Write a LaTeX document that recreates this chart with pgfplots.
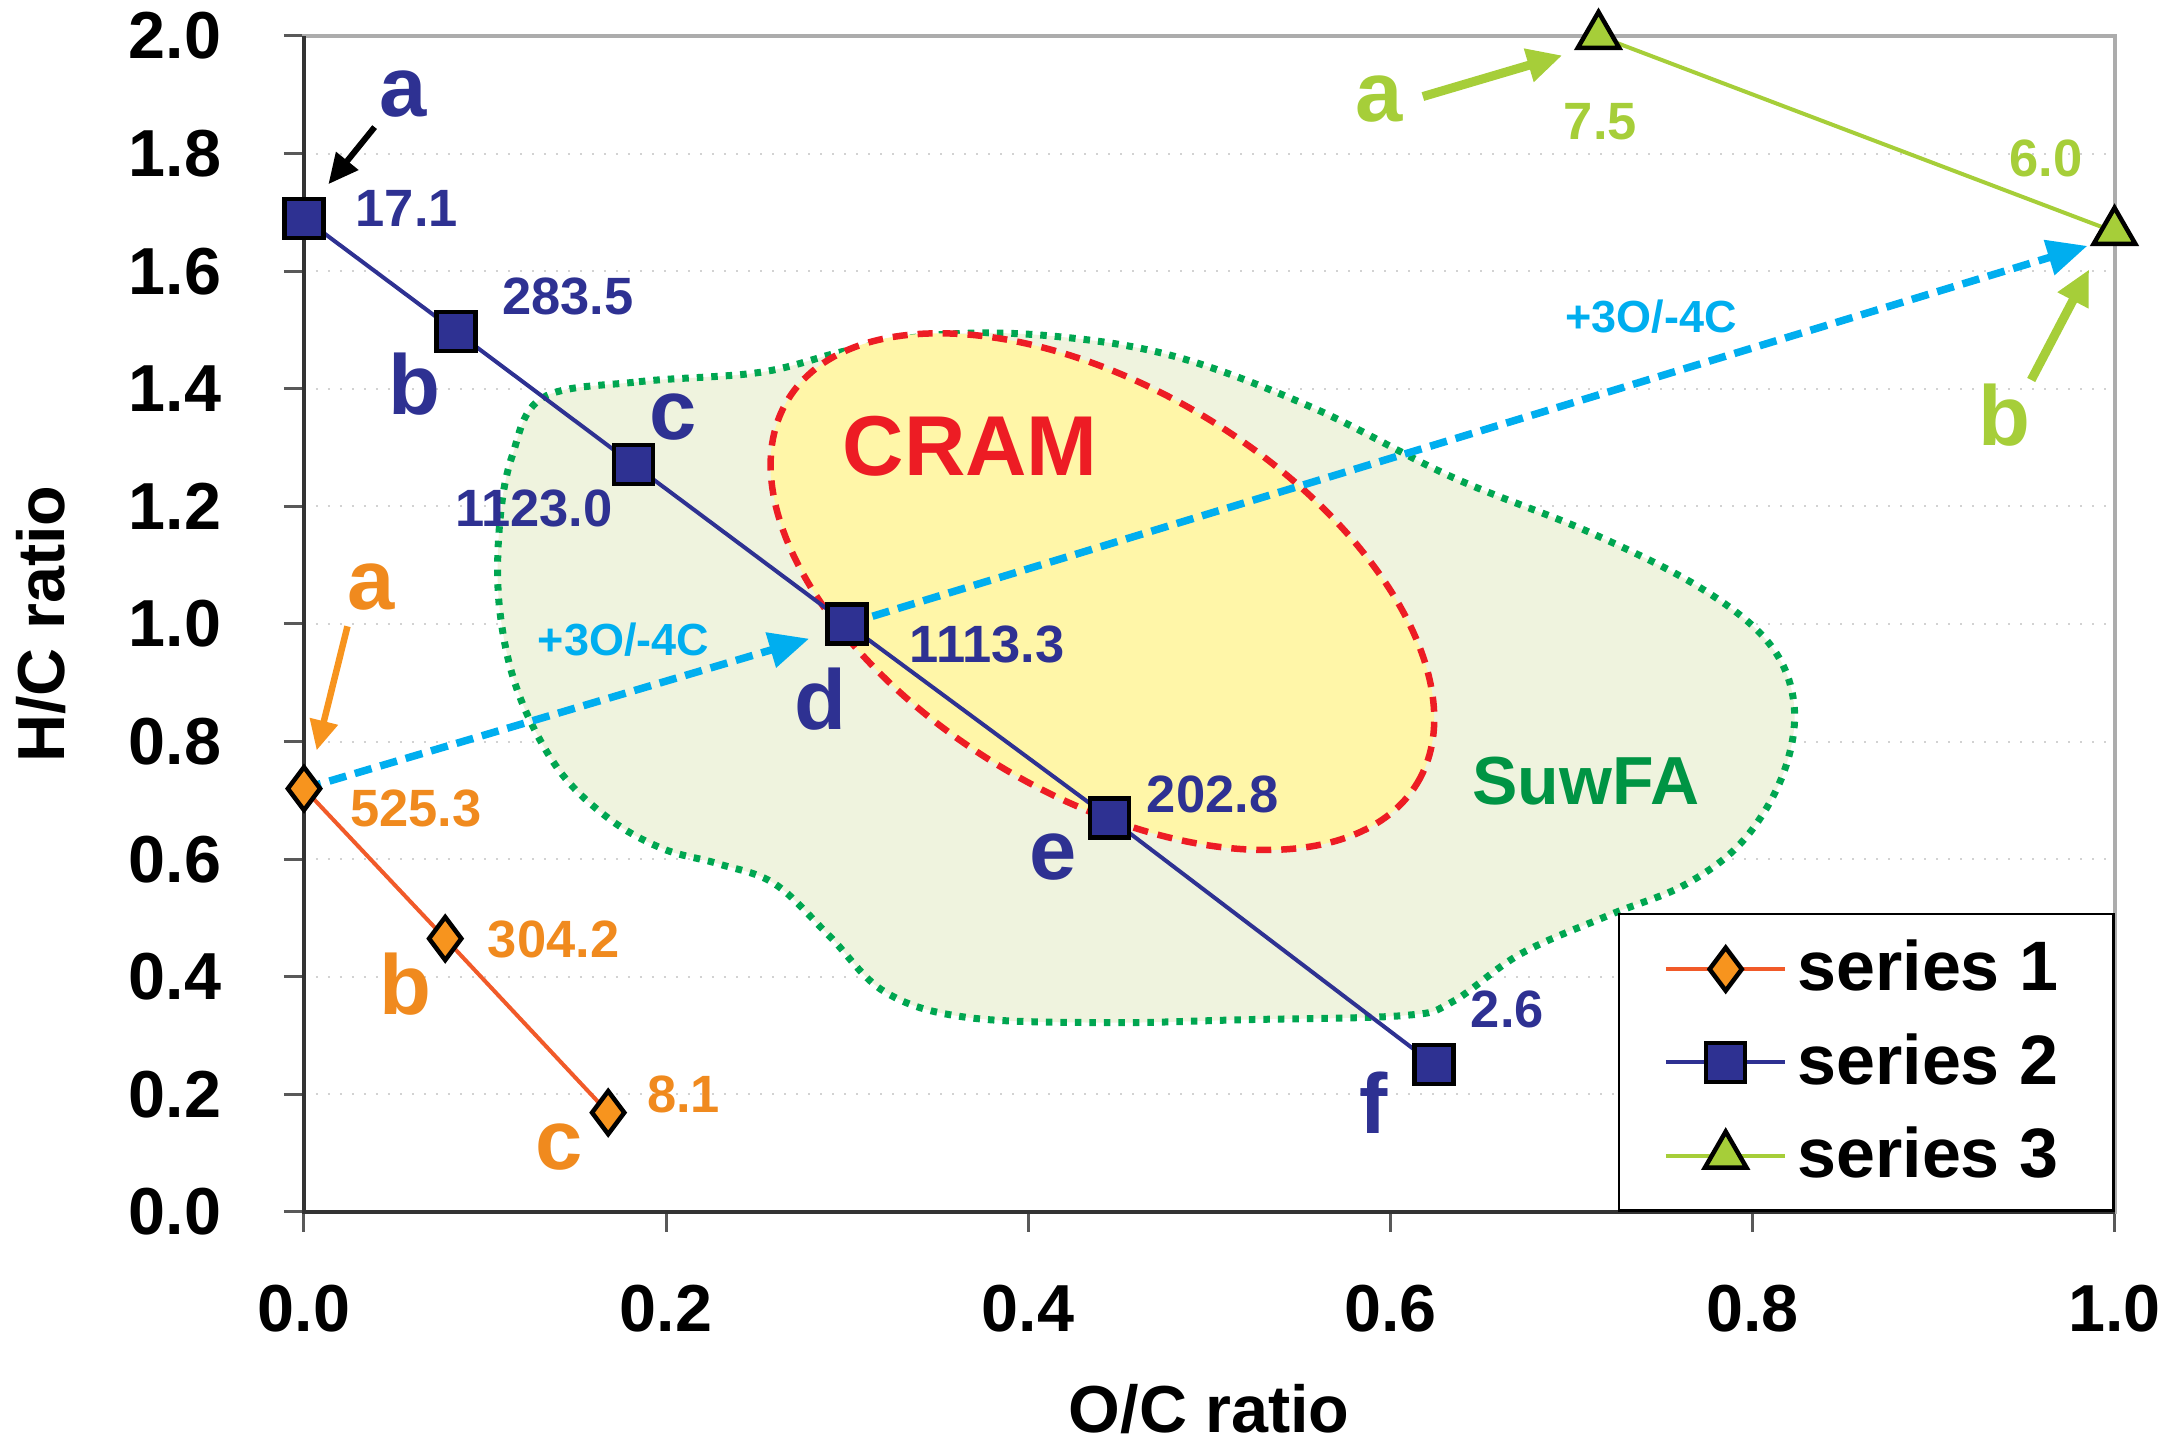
\documentclass[border=0pt]{standalone}
\usepackage{fontspec}
\setmainfont{Liberation Sans}
\usepackage{pgfplots}
\pgfplotsset{compat=1.18}
\usetikzlibrary{arrows.meta}
\definecolor{sonefill}{HTML}{F7941E}
\definecolor{sonetext}{HTML}{F08A1E}
\definecolor{soneline}{HTML}{F15A29}
\definecolor{navy}{HTML}{2E3192}
\definecolor{lime}{HTML}{A6CE39}
\definecolor{cyanA}{HTML}{00AEEF}
\definecolor{cramred}{HTML}{ED1C24}
\definecolor{cramfill}{HTML}{FFF6A8}
\definecolor{suwfill}{HTML}{EFF3DE}
\definecolor{suwline}{HTML}{00A651}
\definecolor{suwtext}{HTML}{009444}
\newcommand{\fs}[1]{\fontsize{#1}{#1}\selectfont\bfseries}
\begin{document}
\begin{tikzpicture}
\begin{axis}[
  at={(0pt,0pt)}, anchor=south west,
  scale only axis, width=362.1pt, height=235.2pt,
  xmin=0, xmax=1, ymin=0, ymax=2,
  xtick={0,0.2,0.4,0.6,0.8,1.0},
  ytick={0,0.2,0.4,0.6,0.8,1.0,1.2,1.4,1.6,1.8,2.0},
  /pgf/number format/.cd, fixed, fixed zerofill, precision=1, assume math mode=true,
  /pgfplots/.cd,
  tick label style={font=\fs{13.3}},
  xticklabel style={yshift=-7pt},
  yticklabel style={xshift=-9pt},
  tick align=outside, major tick length=4pt,
  tick style={draw=gray!70!black, line width=0.6pt},
  xtick pos=bottom, ytick pos=left,
  ymajorgrids, grid style={draw=gray!35, dotted, line width=0.4pt},
  axis line style={draw=gray!65, line width=0.8pt},
  xlabel={O/C ratio}, ylabel={H/C ratio},
  label style={font=\fs{13.3}},
  xlabel style={at={(axis description cs:0.5,-0.168)}, anchor=center},
  ylabel style={at={(axis description cs:-0.145,0.5)}, anchor=center},
  clip=false,
  legend style={at={(1,0)}, anchor=south east, draw=black, line width=0.5pt,
    font=\fs{14}, inner xsep=9pt, inner ysep=3.2pt, row sep=3pt,
    cells={anchor=west}},
  legend image code/.code={\draw[mark repeat=2,mark phase=2,#1] plot coordinates {(0cm,0cm) (0.42cm,0cm) (0.84cm,0cm)};},
]
% SuwFA region
\draw[suwline, line width=1.4pt, dash pattern=on 1.3pt off 1.6pt, fill=suwfill]
  plot[smooth cycle, tension=0.6] coordinates {
  (axis cs:0.132,1.385) (axis cs:0.185,1.412) (axis cs:0.252,1.428) (axis cs:0.300,1.465)
  (axis cs:0.351,1.492) (axis cs:0.412,1.490) (axis cs:0.481,1.455) (axis cs:0.557,1.368)
  (axis cs:0.634,1.250) (axis cs:0.710,1.156) (axis cs:0.771,1.062) (axis cs:0.809,0.968)
  (axis cs:0.823,0.863) (axis cs:0.817,0.745) (axis cs:0.795,0.632) (axis cs:0.763,0.557)
  (axis cs:0.721,0.505) (axis cs:0.672,0.439) (axis cs:0.634,0.357) (axis cs:0.607,0.334)
  (axis cs:0.519,0.327) (axis cs:0.443,0.322) (axis cs:0.366,0.331) (axis cs:0.321,0.374)
  (axis cs:0.290,0.470) (axis cs:0.260,0.558) (axis cs:0.229,0.592) (axis cs:0.198,0.618)
  (axis cs:0.168,0.670) (axis cs:0.140,0.755) (axis cs:0.118,0.886) (axis cs:0.108,1.027)
  (axis cs:0.108,1.168) (axis cs:0.115,1.286)};
% CRAM region
\draw[cramred, dash pattern=on 3pt off 2pt, line width=1.3pt, fill=cramfill,
  rotate around={-31.4:(axis cs:0.441,1.055)}]
  (axis cs:0.441,1.055) ellipse [x radius=73.7pt, y radius=40.5pt];
% blue arrows
\draw[cyanA, line width=1.5pt, dash pattern=on 3.5pt off 1.8pt, -{Triangle[length=8pt,width=7pt]}]
  (axis cs:0.0,0.72) -- (axis cs:0.279,0.975);
\draw[cyanA, line width=1.5pt, dash pattern=on 3.5pt off 1.8pt, -{Triangle[length=8pt,width=7pt]}]
  (axis cs:0.30,1.0) -- (axis cs:0.985,1.643);
% series
\addplot[color=soneline, line width=0.8pt, mark=diamond*, mark size=4.3pt,
  mark options={fill=sonefill, draw=black, line width=0.9pt}]
  coordinates {(0,0.72) (0.078,0.465) (0.168,0.169)};
\addlegendentry{series 1}
\addplot[color=navy, line width=0.8pt, mark=square*, mark size=3.9pt,
  mark options={fill=navy, draw=black, line width=0.9pt}]
  coordinates {(0,1.69) (0.084,1.497) (0.182,1.271) (0.30,1.0) (0.445,0.670) (0.624,0.251)};
\addlegendentry{series 2}
\addplot[color=lime, line width=0.8pt, mark=triangle*, mark size=4.8pt,
  mark options={fill=lime, draw=black, line width=0.9pt}]
  coordinates {(0.715,2.0) (1.0,1.667)};
\addlegendentry{series 3}
% region labels
\node[text=cramred, font=\fs{17}] at (axis cs:0.368,1.302) {CRAM};
\node[text=suwtext, font=\fs{13.6}] at (axis cs:0.708,0.733) {SuwFA};
\node[text=cyanA, font=\fs{9}] at (axis cs:0.1765,0.974) {+3O/-4C};
\node[text=cyanA, font=\fs{9}] at (axis cs:0.744,1.523) {+3O/-4C};
% series 2 labels
\node[text=navy, font=\fs{10.5}, anchor=west, inner sep=0pt] at (axis cs:0.028,1.706) {17.1};
\node[text=navy, font=\fs{10.5}, anchor=west, inner sep=0pt] at (axis cs:0.109,1.557) {283.5};
\node[text=navy, font=\fs{10.5}] at (axis cs:0.127,1.196) {1123.0};
\node[text=navy, font=\fs{10.5}, anchor=west, inner sep=0pt] at (axis cs:0.334,0.966) {1113.3};
\node[text=navy, font=\fs{10.5}, anchor=west, inner sep=0pt] at (axis cs:0.465,0.710) {202.8};
\node[text=navy, font=\fs{10.5}, anchor=west, inner sep=0pt] at (axis cs:0.644,0.345) {2.6};
\node[text=navy, font=\fs{17}] at (axis cs:0.055,1.901) {a};
\node[text=navy, font=\fs{17}] at (axis cs:0.061,1.408) {b};
\node[text=navy, font=\fs{17}] at (axis cs:0.204,1.352) {c};
\node[text=navy, font=\fs{17}] at (axis cs:0.285,0.872) {d};
\node[text=navy, font=\fs{17}] at (axis cs:0.414,0.604) {e};
\node[text=navy, font=\fs{17}] at (axis cs:0.591,0.186) {f};
\draw[black, line width=1.2pt, -{Triangle[length=6pt,width=5.5pt]}] (axis cs:0.039,1.845) -- (axis cs:0.0135,1.748);
% series 1 labels
\node[text=sonetext, font=\fs{10.5}, anchor=west, inner sep=0pt] at (axis cs:0.025,0.686) {525.3};
\node[text=sonetext, font=\fs{10.5}, anchor=west, inner sep=0pt] at (axis cs:0.101,0.463) {304.2};
\node[text=sonetext, font=\fs{10.5}, anchor=west, inner sep=0pt] at (axis cs:0.189,0.200) {8.1};
\node[text=sonetext, font=\fs{17}] at (axis cs:0.037,1.062) {a};
\node[text=sonetext, font=\fs{17}] at (axis cs:0.056,0.388) {b};
\node[text=sonetext, font=\fs{17}] at (axis cs:0.141,0.110) {c};
\draw[sonefill, line width=1.3pt, -{Triangle[length=6pt,width=5.5pt]}] (axis cs:0.024,0.996) -- (axis cs:0.007,0.785);
% series 3 labels
\node[text=lime, font=\fs{17}] at (axis cs:0.594,1.892) {a};
\node[text=lime, font=\fs{10.5}] at (axis cs:0.716,1.854) {7.5};
\node[text=lime, font=\fs{10.5}] at (axis cs:0.962,1.791) {6.0};
\node[text=lime, font=\fs{17}] at (axis cs:0.939,1.356) {b};
\draw[lime, line width=1.8pt, -{Triangle[length=7pt,width=6.5pt]}] (axis cs:0.618,1.897) -- (axis cs:0.695,1.967);
\draw[lime, line width=1.8pt, -{Triangle[length=7pt,width=6.5pt]}] (axis cs:0.954,1.415) -- (axis cs:0.986,1.603);
% darker left/bottom axis lines
\draw[black!80, line width=0.8pt] (rel axis cs:0,1) -- (rel axis cs:0,0) -- (rel axis cs:1,0);
\end{axis}
\pgfresetboundingbox
\path[use as bounding box] (-60.8pt,-45.9pt) rectangle (372.6pt,242.4pt);
\end{tikzpicture}
\end{document}
